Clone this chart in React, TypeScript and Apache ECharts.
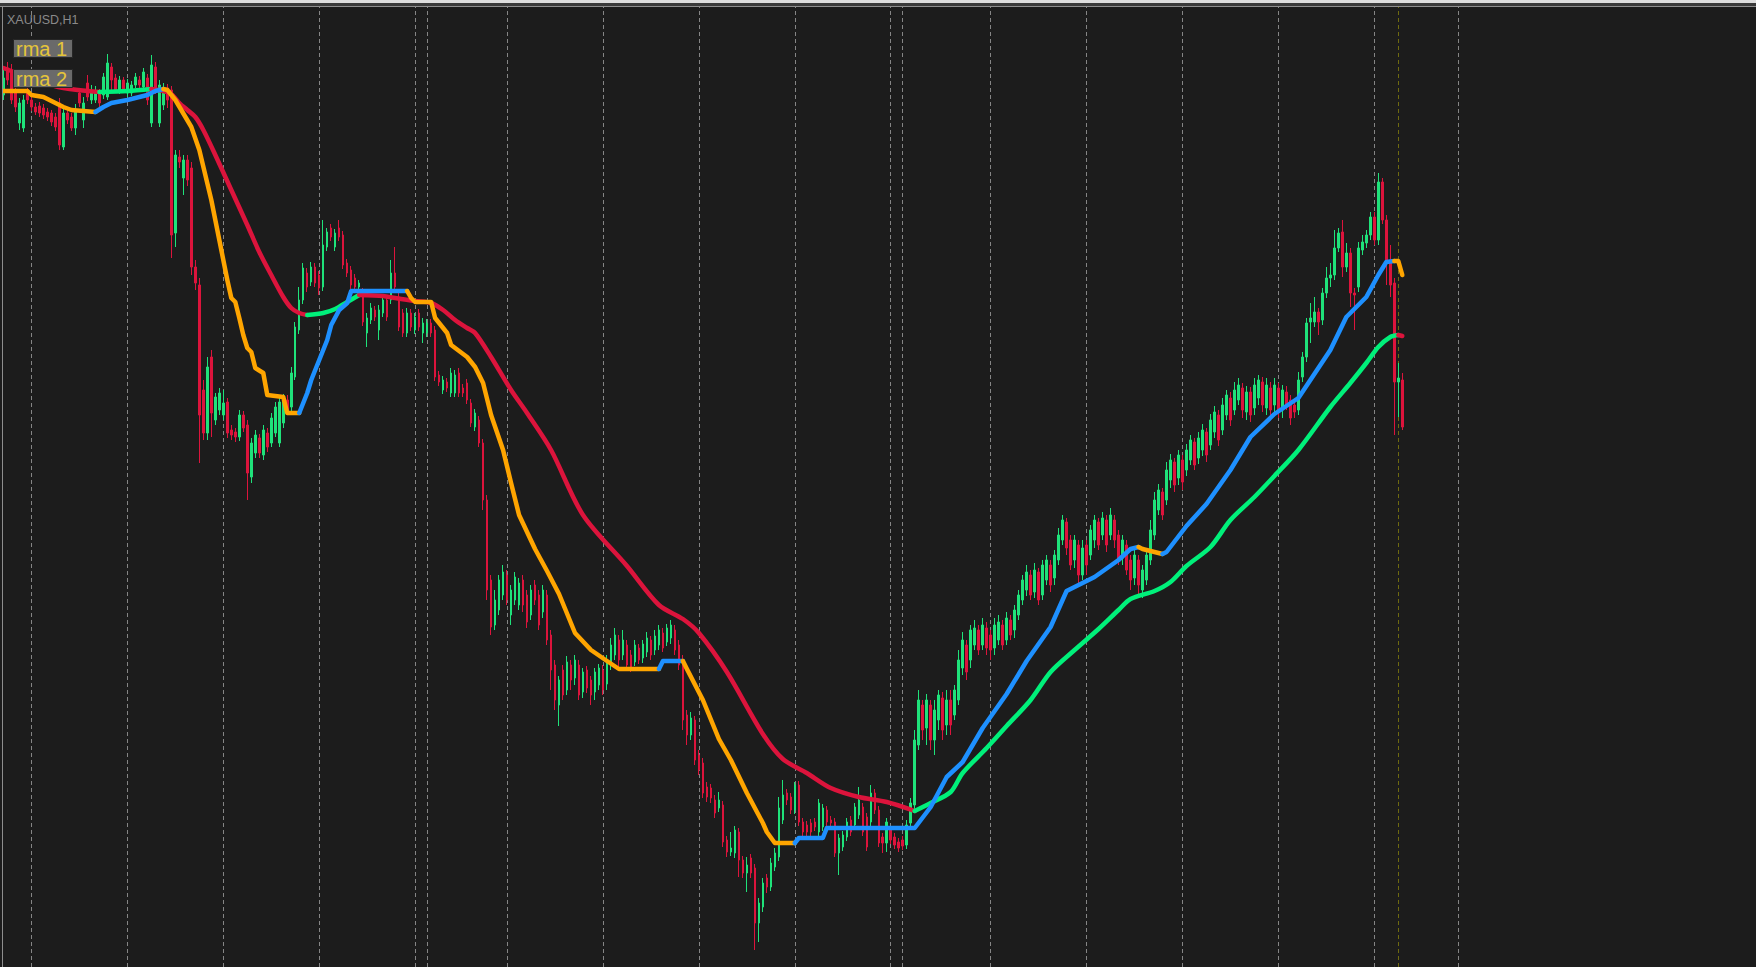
import React, { useEffect, useRef } from 'react';
import * as echarts from 'echarts';

const symbolLabel = 'XAUUSD,H1';
const indicatorLabels = ['rma 1', 'rma 2'];
const TOTAL_SLOTS = 439;
const PRICE_MIN = 2303.3;
const PRICE_MAX = 2400;
const daySeparators = [7, 31, 55, 79, 103, 106, 126, 150, 174, 198, 222, 225, 247, 271, 295, 319, 343, 364];
const markerBar = 349;

// [open, close, low, high]
const candles: number[][] = [
  [2390.5,2392.2,2390.0,2393.0],[2393.2,2392.0,2391.5,2393.8],[2392.8,2390.0,2389.6,2393.6],[2390.7,2389.3,2388.8,2391.2],[2387.7,2389.7,2387.0,2390.2],
  [2387.2,2390.0,2386.8,2390.5],[2391.0,2390.0,2389.6,2391.4],[2390.0,2389.3,2388.9,2390.4],[2389.3,2388.8,2388.5,2389.7],[2389.4,2388.7,2388.3,2389.8],
  [2389.2,2388.5,2388.1,2389.6],[2388.8,2388.3,2387.9,2389.2],[2388.7,2387.8,2387.4,2389.0],[2388.3,2387.3,2386.9,2388.7],[2389.7,2385.5,2385.0,2390.2],
  [2385.3,2388.7,2385.0,2389.2],[2388.7,2388.0,2387.6,2389.1],[2388.3,2387.2,2386.9,2388.7],[2387.2,2389.0,2386.5,2389.6],[2390.7,2389.7,2389.3,2391.2],
  [2388.0,2389.7,2387.2,2390.3],[2391.7,2390.3,2389.9,2392.5],[2390.0,2391.0,2389.6,2391.5],[2390.0,2390.8,2389.7,2391.4],[2390.7,2389.7,2389.3,2391.1],
  [2390.5,2392.3,2390.1,2392.7],[2390.3,2393.7,2390.0,2394.6],[2393.3,2392.0,2391.0,2393.7],[2392.2,2391.0,2390.7,2392.6],[2391.0,2392.0,2390.6,2392.4],
  [2392.0,2391.0,2390.7,2392.3],[2390.7,2391.7,2390.3,2392.1],[2390.7,2391.5,2390.4,2391.9],[2391.5,2392.3,2391.2,2392.7],[2392.0,2391.5,2391.2,2392.4],
  [2391.3,2392.8,2391.0,2393.2],[2392.2,2390.0,2389.5,2392.6],[2387.7,2393.5,2387.3,2394.5],[2393.3,2391.0,2390.6,2393.8],[2387.7,2391.5,2387.3,2392.0],
  [2389.5,2390.8,2389.0,2391.7],[2391.2,2390.0,2389.2,2391.6],[2391.0,2376.5,2374.2,2391.4],[2376.7,2384.5,2375.3,2385.0],[2384.3,2383.8,2383.2,2385.0],
  [2382.2,2384.0,2380.5,2384.5],[2384.0,2382.0,2381.4,2384.5],[2383.2,2373.3,2372.5,2383.8],[2373.3,2371.7,2371.0,2374.0],[2371.5,2358.5,2353.7,2372.2],
  [2361.0,2356.7,2356.0,2362.0],[2356.7,2363.3,2356.0,2364.3],[2364.3,2358.7,2356.3,2365.0],[2358.0,2360.3,2357.5,2360.7],[2359.0,2360.7,2358.5,2361.2],
  [2358.5,2359.7,2358.0,2361.0],[2359.8,2356.7,2356.2,2360.2],[2357.0,2356.5,2356.0,2357.5],[2356.8,2356.3,2355.8,2357.2],[2356.3,2358.5,2355.9,2359.0],
  [2358.5,2357.2,2356.8,2358.9],[2357.5,2352.7,2350.0,2358.0],[2352.3,2355.7,2351.7,2356.2],[2354.7,2356.5,2354.2,2357.0],[2356.2,2354.7,2354.2,2356.6],
  [2354.5,2357.0,2354.0,2357.5],[2356.7,2355.3,2354.8,2357.2],[2355.7,2358.2,2355.3,2358.7],[2356.7,2359.3,2356.3,2359.8],[2355.7,2359.8,2355.3,2360.4],
  [2357.7,2360.0,2357.2,2360.6],[2360.0,2359.0,2358.5,2360.5],[2359.3,2362.7,2358.8,2363.3],[2362.3,2367.3,2362.0,2367.8],[2367.0,2370.0,2366.6,2371.3],
  [2370.0,2373.2,2369.6,2373.7],[2372.7,2371.3,2370.8,2373.2],[2371.8,2373.3,2371.4,2373.8],[2373.3,2371.7,2371.3,2373.7],[2372.5,2371.2,2370.5,2372.9],
  [2371.3,2375.5,2370.9,2378.0],[2375.3,2376.8,2374.9,2377.2],[2377.2,2376.3,2375.9,2377.6],[2375.3,2376.7,2374.9,2377.1],[2377.2,2376.3,2375.9,2378.0],
  [2376.5,2373.5,2373.1,2376.9],[2373.7,2372.7,2372.3,2374.1],[2373.0,2371.5,2371.1,2373.4],[2372.2,2371.3,2370.9,2372.6],[2371.3,2371.7,2370.9,2372.0],
  [2370.7,2367.8,2367.4,2371.2],[2366.7,2368.2,2365.3,2368.7],[2368.0,2369.2,2367.6,2369.7],[2369.0,2368.3,2367.9,2369.4],[2367.0,2369.0,2366.0,2369.5],
  [2368.7,2370.0,2368.3,2370.5],[2370.0,2368.3,2367.9,2370.4],[2370.0,2372.7,2369.6,2374.0],[2372.7,2371.3,2370.9,2375.3],[2370.3,2367.3,2366.9,2370.8],
  [2368.7,2366.7,2366.3,2369.1],[2366.7,2368.7,2366.3,2369.2],[2368.7,2367.3,2366.9,2369.1],[2367.0,2368.3,2366.6,2368.7],[2368.7,2367.3,2366.9,2369.1],
  [2366.7,2367.7,2365.7,2368.2],[2366.7,2367.7,2366.3,2368.1],[2367.7,2366.7,2366.3,2368.1],[2367.0,2362.3,2361.9,2367.4],[2362.5,2361.8,2361.4,2362.9],
  [2361.0,2362.0,2360.6,2362.4],[2361.8,2361.2,2360.8,2362.2],[2360.7,2362.7,2360.3,2363.2],[2360.7,2362.5,2360.3,2363.0],[2362.7,2360.7,2360.3,2363.2],
  [2361.2,2360.7,2360.3,2361.6],[2361.7,2360.0,2359.6,2362.1],[2359.7,2357.7,2357.3,2360.1],[2357.3,2358.7,2356.9,2359.1],[2358.0,2355.7,2355.3,2358.4],
  [2355.7,2350.0,2349.0,2356.1],[2350.0,2341.0,2340.0,2350.5],[2342.0,2337.3,2336.5,2342.5],[2337.5,2340.0,2337.0,2341.0],[2339.0,2342.0,2338.5,2342.5],
  [2340.5,2342.8,2340.0,2343.5],[2342.5,2340.0,2339.5,2343.0],[2338.5,2341.0,2337.5,2341.5],[2340.0,2342.3,2339.5,2342.8],[2339.5,2341.7,2339.0,2342.2],
  [2342.0,2339.5,2338.8,2342.5],[2340.5,2337.8,2337.2,2341.0],[2338.5,2341.0,2338.0,2341.5],[2341.5,2340.0,2339.5,2342.0],[2340.5,2337.5,2337.0,2341.0],
  [2338.8,2341.0,2338.2,2341.5],[2340.5,2336.0,2335.5,2341.0],[2336.5,2333.0,2331.0,2337.0],[2333.5,2330.0,2329.0,2334.0],[2329.5,2332.0,2327.4,2332.4],
  [2333.0,2330.5,2330.0,2333.5],[2331.0,2333.8,2330.5,2334.4],[2333.5,2332.0,2331.0,2334.0],[2332.2,2334.0,2331.5,2334.5],[2333.5,2330.5,2330.0,2334.0],
  [2330.8,2332.8,2330.2,2333.2],[2333.0,2331.2,2330.7,2333.4],[2332.0,2330.5,2329.5,2332.4],[2330.8,2332.8,2330.0,2333.2],[2331.5,2333.2,2331.0,2333.6],
  [2333.0,2331.0,2330.5,2333.5],[2331.6,2334.0,2331.0,2334.5],[2333.5,2335.5,2333.0,2336.2],[2334.5,2336.5,2334.0,2337.2],[2336.0,2334.0,2333.2,2336.5],
  [2334.5,2336.0,2334.0,2337.0],[2335.5,2333.5,2333.0,2336.0],[2334.5,2333.2,2332.8,2335.0],[2333.8,2335.5,2333.4,2336.0],[2335.2,2334.0,2333.6,2335.6],
  [2334.2,2335.6,2333.7,2336.0],[2334.8,2336.2,2334.3,2336.8],[2336.0,2334.5,2334.0,2336.4],[2335.0,2336.4,2334.5,2337.0],[2335.5,2337.0,2335.0,2337.5],
  [2336.7,2335.2,2334.8,2337.2],[2335.8,2337.2,2335.4,2337.6],[2336.2,2337.5,2335.6,2338.0],[2337.0,2335.0,2334.5,2337.5],[2335.5,2333.5,2333.0,2336.0],
  [2334.0,2328.0,2327.0,2334.5],[2328.5,2326.5,2325.5,2329.0],[2326.5,2328.2,2326.0,2328.8],[2328.0,2324.0,2323.5,2328.4],[2324.5,2323.0,2322.5,2325.0],
  [2323.7,2320.7,2320.2,2324.2],[2321.3,2320.3,2319.8,2321.8],[2321.2,2320.2,2319.7,2321.6],[2320.0,2318.7,2318.2,2320.5],[2319.2,2320.0,2318.8,2320.8],
  [2319.5,2315.8,2315.3,2319.9],[2316.0,2314.8,2314.3,2316.4],[2314.8,2315.2,2314.4,2316.8],[2314.7,2317.0,2314.2,2317.4],[2316.8,2314.0,2312.3,2317.2],
  [2314.0,2312.7,2312.2,2314.4],[2312.7,2313.5,2310.8,2314.3],[2314.2,2312.7,2312.2,2314.6],[2313.2,2307.7,2305.0,2313.6],[2307.7,2309.7,2305.8,2310.2],
  [2309.3,2311.7,2308.8,2312.2],[2312.2,2311.3,2310.7,2312.6],[2311.3,2313.7,2310.9,2314.2],[2313.3,2314.7,2312.9,2315.2],[2314.3,2319.2,2313.9,2320.3],
  [2318.0,2320.5,2317.6,2322.0],[2320.7,2320.0,2319.5,2321.1],[2320.3,2319.0,2318.6,2320.7],[2319.0,2321.5,2318.6,2321.8],[2321.5,2317.8,2317.4,2321.9],
  [2317.8,2316.8,2316.4,2318.2],[2317.5,2316.8,2316.4,2317.9],[2317.7,2316.8,2316.4,2318.1],[2317.8,2317.3,2316.9,2318.2],[2316.8,2319.7,2316.4,2320.1],
  [2317.3,2319.2,2316.9,2319.6],[2319.0,2317.8,2317.4,2319.4],[2318.0,2317.7,2317.3,2318.4],[2317.8,2314.7,2314.3,2318.2],[2314.7,2316.2,2312.5,2316.6],
  [2315.3,2316.5,2314.9,2316.9],[2316.3,2317.8,2315.9,2318.2],[2318.0,2316.8,2316.4,2318.4],[2317.5,2319.3,2317.1,2319.7],[2318.5,2320.0,2318.1,2321.3],
  [2319.3,2316.8,2316.4,2319.7],[2318.3,2315.3,2314.9,2318.7],[2317.8,2320.7,2317.4,2321.5],[2320.7,2319.0,2318.6,2321.1],[2319.0,2315.7,2315.3,2319.4],
  [2316.3,2315.7,2314.7,2316.7],[2315.7,2317.8,2314.8,2318.2],[2317.0,2316.0,2315.6,2317.4],[2316.3,2315.5,2315.1,2316.7],[2315.8,2315.2,2314.8,2316.2],
  [2316.0,2315.4,2315.0,2316.4],[2315.5,2317.5,2315.1,2318.0],[2317.7,2319.7,2317.2,2320.2],[2319.5,2326.0,2319.0,2327.0],[2325.5,2330.0,2325.0,2331.0],
  [2329.5,2327.0,2326.0,2330.0],[2327.2,2330.0,2325.5,2330.6],[2329.5,2326.0,2325.0,2330.0],[2326.0,2329.0,2324.5,2330.0],[2328.0,2330.5,2327.0,2331.0],
  [2330.2,2327.0,2326.0,2330.8],[2327.5,2330.0,2326.5,2331.0],[2330.0,2327.5,2326.5,2331.0],[2328.5,2331.0,2328.0,2331.5],[2330.0,2334.0,2329.5,2335.0],
  [2333.2,2336.0,2332.5,2336.8],[2335.5,2332.8,2332.0,2336.0],[2334.0,2337.0,2333.2,2337.5],[2335.5,2337.2,2335.0,2338.0],[2337.0,2335.0,2334.5,2337.5],
  [2335.5,2337.5,2335.0,2338.2],[2337.2,2335.2,2334.5,2337.8],[2336.5,2335.0,2334.0,2337.0],[2335.2,2337.5,2334.5,2338.2],[2336.0,2337.8,2335.5,2338.5],
  [2337.5,2335.5,2335.0,2338.0],[2336.0,2338.2,2335.5,2338.8],[2338.0,2336.5,2336.0,2338.5],[2337.0,2339.0,2336.2,2339.5],[2338.5,2340.5,2338.0,2341.0],
  [2340.0,2342.0,2339.5,2342.5],[2341.0,2342.8,2340.4,2343.5],[2342.5,2340.5,2340.0,2343.0],[2340.8,2343.0,2340.2,2343.7],[2342.8,2340.0,2339.5,2343.2],
  [2340.5,2343.5,2340.0,2344.0],[2342.0,2344.0,2341.5,2344.5],[2343.5,2341.5,2340.8,2344.0],[2342.2,2344.5,2341.5,2345.0],[2344.0,2346.5,2343.5,2347.2],
  [2346.0,2348.0,2345.5,2348.5],[2347.8,2345.2,2344.5,2348.2],[2346.0,2343.5,2343.0,2346.5],[2344.0,2346.0,2343.2,2346.5],[2345.5,2342.5,2341.5,2346.0],
  [2342.5,2345.2,2342.0,2346.0],[2345.5,2343.5,2342.5,2346.0],[2344.5,2347.0,2344.0,2347.5],[2346.0,2348.0,2345.2,2348.5],[2347.8,2345.5,2345.0,2348.2],
  [2346.5,2348.2,2346.0,2348.8],[2348.0,2345.5,2344.8,2348.5],[2346.5,2348.5,2346.0,2349.2],[2348.0,2346.0,2345.2,2348.5],[2346.5,2344.0,2343.5,2347.0],
  [2344.2,2346.0,2343.5,2346.5],[2345.5,2343.0,2342.5,2346.0],[2344.0,2342.0,2341.0,2344.5],[2342.2,2344.5,2341.5,2345.0],[2344.0,2341.5,2340.5,2344.5],
  [2341.0,2343.0,2340.2,2343.5],[2342.0,2344.5,2341.5,2345.0],[2344.0,2347.0,2343.5,2348.0],[2346.5,2350.0,2346.0,2350.8],[2349.0,2351.0,2348.5,2351.6],
  [2350.8,2348.5,2348.0,2351.2],[2350.0,2353.0,2349.5,2353.8],[2352.0,2354.0,2351.2,2354.6],[2353.8,2351.5,2350.8,2354.2],[2352.2,2354.5,2351.5,2355.0],
  [2354.0,2351.8,2351.0,2354.5],[2353.0,2355.0,2352.4,2355.6],[2354.0,2356.0,2353.5,2356.5],[2355.8,2353.5,2353.0,2356.2],[2354.2,2356.2,2353.6,2356.8],
  [2355.0,2357.0,2354.4,2357.6],[2356.8,2354.5,2353.8,2357.2],[2355.5,2358.0,2355.0,2358.6],[2356.8,2358.8,2356.2,2359.4],[2358.5,2356.0,2355.4,2359.0],
  [2357.0,2359.5,2356.5,2360.2],[2358.5,2360.5,2358.0,2361.0],[2360.2,2358.0,2357.4,2360.8],[2359.0,2361.0,2358.5,2361.8],[2360.0,2361.5,2359.5,2362.2],
  [2361.2,2359.0,2358.2,2361.7],[2358.8,2360.8,2358.0,2361.4],[2360.8,2358.5,2357.8,2361.3],[2359.2,2361.5,2358.5,2362.2],[2360.2,2362.0,2359.5,2362.5],
  [2361.8,2359.5,2358.8,2362.3],[2359.2,2361.5,2358.5,2362.2],[2361.2,2359.0,2358.0,2361.8],[2359.5,2361.5,2358.8,2362.2],[2361.2,2358.8,2358.2,2361.7],
  [2359.0,2361.0,2358.2,2361.5],[2360.8,2359.5,2359.0,2361.4],[2360.0,2358.2,2357.5,2360.5],[2359.5,2358.8,2358.2,2360.0],[2359.0,2362.0,2358.5,2362.8],
  [2362.3,2364.3,2361.8,2364.8],[2364.3,2367.7,2363.8,2368.2],[2367.8,2368.2,2365.7,2369.7],[2367.8,2368.8,2367.3,2370.3],[2368.8,2367.8,2366.5,2369.2],
  [2368.0,2370.7,2367.5,2371.2],[2370.7,2372.2,2370.2,2373.3],[2372.2,2372.5,2371.3,2373.7],[2372.5,2375.2,2372.0,2377.0],[2375.2,2376.7,2374.8,2377.2],
  [2376.8,2373.3,2372.3,2378.0],[2373.3,2374.7,2372.8,2375.7],[2374.7,2370.7,2369.3,2375.2],[2370.7,2370.5,2367.0,2371.2],[2371.3,2375.2,2370.8,2375.8],
  [2375.0,2375.8,2374.5,2376.5],[2375.7,2376.5,2375.2,2377.0],[2376.5,2378.3,2376.0,2378.8],[2378.3,2376.0,2375.5,2378.8],[2376.0,2381.8,2375.5,2382.7],
  [2381.8,2378.0,2377.6,2382.2],[2378.0,2374.0,2371.5,2378.5],[2374.0,2371.5,2370.3,2375.5],[2371.7,2361.8,2356.5,2372.2],[2361.8,2362.2,2358.3,2363.7],
  [2362.0,2357.3,2357.0,2362.7],
];

// [bar, value] vertices of the two moving averages
const rma1: number[][] = [
  [0,2393.2],[8,2392.0],[15,2391.2],[24,2390.8],[31,2390.9],[37,2391.1],[40,2390.9],[42,2390.6],[44,2389.7],[46,2389.0],
  [48,2388.3],[50,2387.0],[53,2384.5],[57,2381.0],[61,2377.5],[64,2374.8],[67,2372.5],[70,2370.3],[72,2369.2],[74,2368.7],
  [76,2368.5],[80,2368.7],[83,2369.1],[86,2369.8],[89,2370.5],[95,2370.4],[98,2370.2],[103,2369.9],[107,2369.7],[110,2369.0],
  [113,2368.0],[116,2367.2],[118,2366.7],[122,2364.3],[127,2361.0],[131,2358.7],[137,2355.0],[145,2348.5],[156,2343.4],[164,2339.5],
  [170,2338.1],[174,2336.7],[181,2332.8],[190,2326.6],[195,2324.1],[201,2322.7],[207,2321.2],[214,2320.3],[221,2319.8],[228,2318.9],
  [232,2319.7],[237,2320.8],[240,2322.7],[246,2325.2],[251,2327.4],[257,2330.0],[262,2332.8],[268,2335.0],[274,2337.1],[279,2339.0],
  [282,2340.1],[288,2340.9],[292,2341.8],[296,2343.4],[302,2345.3],[307,2348.0],[313,2350.3],[318,2352.4],[324,2355.0],[332,2359.3],
  [337,2361.7],[341,2363.7],[344,2365.3],[347,2366.3],[349,2366.5],[350,2366.4],
];
const rma1Turns = [0, 24, 37, 76, 89, 228, 349, 350];

const rma2: number[][] = [
  [0,2390.9],[6,2390.9],[7,2390.5],[10,2390.3],[13,2389.7],[15,2389.3],[17,2389.0],[23,2388.8],[25,2389.3],[27,2389.7],
  [31,2390.0],[34,2390.3],[36,2390.5],[38,2390.9],[40,2391.1],[41,2391.0],[42,2390.5],[43,2390.0],[47,2387.3],[49,2385.0],
  [52,2380.0],[54,2376.0],[56,2372.0],[57,2370.2],[58,2369.8],[59,2368.2],[60,2366.5],[61,2365.2],[62,2364.8],[63,2363.2],
  [65,2362.7],[66,2360.5],[70,2360.3],[71,2358.7],[74,2358.7],[76,2360.7],[77,2362.0],[79,2364.0],[81,2366.0],[82,2367.5],
  [84,2369.0],[86,2369.7],[87,2370.9],[101,2370.9],[102,2370.2],[103,2369.8],[107,2369.8],[108,2368.2],[111,2366.7],[112,2365.5],
  [116,2364.3],[118,2363.3],[120,2361.7],[122,2358.5],[125,2355.0],[127,2351.7],[129,2348.5],[133,2345.1],[136,2342.9],[139,2340.6],
  [143,2336.7],[147,2335.0],[151,2333.9],[154,2333.1],[164,2333.1],[165,2333.9],[170,2333.9],[171,2333.1],[175,2330.0],[179,2326.1],
  [182,2324.0],[186,2320.7],[190,2317.7],[191,2316.8],[193,2315.7],[198,2315.7],[199,2316.2],[205,2316.2],[206,2317.2],[228,2317.2],
  [232,2319.3],[236,2322.3],[240,2323.8],[245,2327.2],[251,2330.6],[256,2333.9],[262,2337.3],[266,2340.9],[273,2342.3],[279,2344.0],
  [282,2345.1],[284,2345.3],[285,2345.1],[290,2344.6],[291,2344.8],[296,2347.4],[301,2349.6],[307,2353.0],[312,2356.3],[318,2358.6],
  [324,2360.2],[332,2365.0],[336,2368.3],[341,2370.3],[344,2372.5],[346,2373.8],[348,2373.9],[349,2373.9],[350,2372.5],
];
const rma2Turns = [0, 23, 40, 74, 101, 164, 170, 198, 284, 290, 348, 350];

const COLORS = {
  bg: '#1c1c1c',
  bull: '#1fe27a',
  bear: '#dc143c',
  rma1Down: '#dc143c',
  rma1Up: '#00f07a',
  rma2Down: '#ffa500',
  rma2Up: '#1e90ff',
  grid: '#858585',
  marker: '#6e6a10',
};

function splitSegments(points: number[][], turns: number[]) {
  const segs: { up: boolean; pts: number[][] }[] = [];
  for (let j = 0; j < turns.length - 1; j++) {
    const a = turns[j];
    const b = turns[j + 1];
    segs.push({ up: j % 2 === 1, pts: points.filter((p) => p[0] >= a && p[0] <= b) });
  }
  return segs;
}

export default function App() {
  const ref = useRef<HTMLDivElement>(null);
  useEffect(() => {
    document.body.style.margin = '0';
    document.body.style.background = COLORS.bg;
    if (!ref.current) return;
    const chart = echarts.init(ref.current, undefined, { renderer: 'svg' });
    const cats = Array.from({ length: TOTAL_SLOTS }, (_, i) => String(i));
    const series: any[] = [];
    series.push({
      type: 'line',
      data: [],
      silent: true,
      color: COLORS.grid,
      markLine: {
        silent: true,
        z: 1,
        symbol: ['none', 'none'],
        label: { show: false },
        animation: false,
        lineStyle: { color: COLORS.grid, type: [4, 3], width: 1, opacity: 1 },
        emphasis: { disabled: true },
        data: [
          ...daySeparators.map((i) => ({ xAxis: i, lineStyle: { color: COLORS.grid, type: [4, 3], width: 1 } })),
          { xAxis: markerBar, lineStyle: { color: COLORS.marker, type: [4, 3], width: 1 } },
        ],
      },
    });
    series.push({
      type: 'candlestick',
      data: candles,
      barWidth: 2,
      z: 2,
      silent: true,
      itemStyle: {
        color: COLORS.bull,
        color0: COLORS.bear,
        borderColor: COLORS.bull,
        borderColor0: COLORS.bear,
        borderWidth: 1,
      },
    });
    splitSegments(rma1, rma1Turns).forEach((s) => {
      series.push({
        type: 'line',
        data: s.pts,
        z: 3,
        silent: true,
        symbol: 'none',
        smooth: 0.3,
        lineStyle: { color: s.up ? COLORS.rma1Up : COLORS.rma1Down, width: 4.5, cap: 'round', join: 'round' },
      });
    });
    splitSegments(rma2, rma2Turns).forEach((s) => {
      series.push({
        type: 'line',
        data: s.pts,
        z: 4,
        silent: true,
        symbol: 'none',
        lineStyle: { color: s.up ? COLORS.rma2Up : COLORS.rma2Down, width: 4.5, cap: 'round', join: 'round' },
      });
    });

    const labelEls: any[] = [];
    indicatorLabels.forEach((t, k) => {
      labelEls.push({
        type: 'rect',
        left: 13,
        top: 39 + k * 30,
        z: 200,
        zlevel: 1,
        shape: { x: 0, y: 0, width: 59, height: 18 },
        style: { fill: '#6a6a6a', stroke: '#262626', lineWidth: 1 },
      });
      labelEls.push({
        type: 'text',
        left: 16,
        top: 38.5 + k * 30,
        z: 201,
        zlevel: 1,
        style: { text: t, fill: '#e5c53a', font: '20px "Liberation Sans", Arial, sans-serif' },
      });
    });

    chart.setOption({
      animation: false,
      backgroundColor: COLORS.bg,
      grid: { left: 1.5, top: 0, width: 1756, height: 967, containLabel: false },
      xAxis: { type: 'category', data: cats, boundaryGap: true, show: false },
      yAxis: { type: 'value', min: PRICE_MIN, max: PRICE_MAX, show: false, splitLine: { show: false } },
      series,
      graphic: [
        { type: 'rect', left: 0, top: 0, z: 190, zlevel: 1, shape: { x: 0, y: 0, width: 1756, height: 3 }, style: { fill: '#dedede' } },
        { type: 'rect', left: 0, top: 3, z: 190, zlevel: 1, shape: { x: 0, y: 0, width: 1756, height: 3 }, style: { fill: '#3a3a3a' } },
        { type: 'rect', left: 0, top: 6, z: 190, zlevel: 1, shape: { x: 0, y: 0, width: 1756, height: 1 }, style: { fill: '#8e8e8e' } },
        { type: 'rect', left: 0, top: 7, z: 190, zlevel: 1, shape: { x: 0, y: 0, width: 2, height: 960 }, style: { fill: COLORS.bg } },
        { type: 'rect', left: 2, top: 7, z: 191, zlevel: 1, shape: { x: 0, y: 0, width: 1, height: 960 }, style: { fill: '#8e8e8e' } },
        { type: 'text', left: 7, top: 13, z: 200, zlevel: 1, style: { text: symbolLabel, fill: '#8a8a8a', font: '12.5px "Liberation Sans", Arial, sans-serif' } },
        ...labelEls,
      ],
    });
    return () => chart.dispose();
  }, []);
  return <div ref={ref} style={{ width: '1756px', height: '967px' }} />;
}
